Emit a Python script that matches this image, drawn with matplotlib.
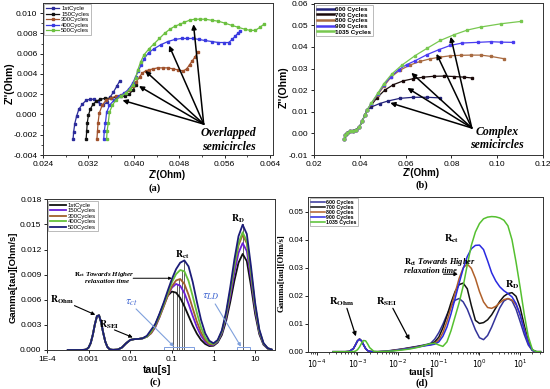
import matplotlib
matplotlib.use('Agg')
import matplotlib.pyplot as plt
import numpy as np
from matplotlib.patches import Rectangle
from matplotlib.ticker import FixedLocator, FixedFormatter, NullLocator, LogLocator, NullFormatter

plt.rcParams['font.family'] = ['Liberation Sans', 'DejaVu Sans']
plt.rcParams['axes.unicode_minus'] = False
plt.rcParams['mathtext.fontset'] = 'dejavusans'

# ---------------- data: panel (a) Nyquist, early cycles ----------------
a_labels = ['1stCycle', '150Cycles', '300Cycles', '400Cycles', '500Cycles']
a1_x = [0.0293, 0.0294, 0.0296, 0.0299, 0.0303, 0.0309, 0.0316, 0.0323, 0.0330, 0.0336, 0.0341, 0.0346, 0.0352, 0.0358, 0.0364, 0.0370, 0.0375]
a1_y = [-0.0024, -0.0017, -0.0009, -0.0002, 0.0005, 0.0010, 0.0014, 0.0015, 0.0015, 0.0013, 0.0010, 0.0009, 0.0012, 0.0017, 0.0022, 0.0028, 0.0033]
a150_x = [0.0316, 0.0317, 0.0318, 0.0320, 0.0323, 0.0328, 0.0334, 0.0341, 0.0350, 0.0359, 0.0368, 0.0377, 0.0385, 0.0392, 0.0398, 0.0404]
a150_y = [-0.0024, -0.0016, -0.0008, -0.0001, 0.0005, 0.0010, 0.0013, 0.0015, 0.0016, 0.0016, 0.0017, 0.0018, 0.0018, 0.0020, 0.0024, 0.0029]
a300_x = [0.0335, 0.0336, 0.0337, 0.0339, 0.0344, 0.0351, 0.0359, 0.0368, 0.0377, 0.0385, 0.0392, 0.0398, 0.0404, 0.0410, 0.0415, 0.0421, 0.0427, 0.0434, 0.0442, 0.0451, 0.0460, 0.0469, 0.0478, 0.0487, 0.0493, 0.0498, 0.0503, 0.0508, 0.0513]
a300_y = [-0.0024, -0.0016, -0.0008, 0.0001, 0.0009, 0.0014, 0.0016, 0.0018, 0.0019, 0.0021, 0.0024, 0.0028, 0.0032, 0.0037, 0.0041, 0.0043, 0.0044, 0.0045, 0.0046, 0.0046, 0.0046, 0.0045, 0.0044, 0.0043, 0.0045, 0.0049, 0.0053, 0.0057, 0.0062]
a400_x = [0.0347, 0.0348, 0.0350, 0.0352, 0.0357, 0.0365, 0.0374, 0.0383, 0.0391, 0.0398, 0.0403, 0.0408, 0.0413, 0.0418, 0.0426, 0.0436, 0.0448, 0.0460, 0.0472, 0.0484, 0.0494, 0.0504, 0.0515, 0.0525, 0.0537, 0.0549, 0.0559, 0.0567, 0.0573, 0.0578, 0.0583, 0.0587]
a400_y = [-0.0024, -0.0016, -0.0008, 0.0002, 0.0009, 0.0014, 0.0018, 0.0021, 0.0025, 0.0031, 0.0037, 0.0043, 0.0049, 0.0055, 0.0061, 0.0065, 0.0069, 0.0072, 0.0074, 0.0075, 0.0075, 0.0075, 0.0074, 0.0073, 0.0072, 0.0071, 0.0071, 0.0071, 0.0074, 0.0077, 0.0080, 0.0082]
a500_x = [0.0352, 0.0353, 0.0355, 0.0357, 0.0362, 0.0368, 0.0377, 0.0386, 0.0393, 0.0398, 0.0403, 0.0407, 0.0412, 0.0418, 0.0427, 0.0436, 0.0445, 0.0454, 0.0463, 0.0472, 0.0481, 0.0489, 0.0498, 0.0507, 0.0516, 0.0525, 0.0537, 0.0549, 0.0561, 0.0572, 0.0584, 0.0596, 0.0605, 0.0614, 0.0622, 0.0629]
a500_y = [-0.0024, -0.0016, -0.0008, 0.0002, 0.0009, 0.0014, 0.0018, 0.0021, 0.0025, 0.0029, 0.0036, 0.0044, 0.0052, 0.0059, 0.0065, 0.0070, 0.0075, 0.0080, 0.0084, 0.0087, 0.0089, 0.0091, 0.0093, 0.0094, 0.0094, 0.0094, 0.0093, 0.0092, 0.0090, 0.0088, 0.0086, 0.0084, 0.0083, 0.0083, 0.0086, 0.0089]

# ---------------- data: panel (b) Nyquist, late cycles ----------------
b_labels = ['600 Cycles', '700 Cycles', '800 Cycles', '900 Cycles', '1035 Cycles']
b_start_x = [0.0333, 0.0336, 0.0345, 0.0358, 0.0372, 0.0385, 0.0398, 0.0410, 0.0422, 0.0433]
b_start_y = [-0.0025, -0.0008, 0.0004, 0.0010, 0.0013, 0.0017, 0.0029, 0.0055, 0.0085, 0.0110]
b600_x = [0.0450, 0.0487, 0.0524, 0.0575, 0.0634, 0.0693, 0.0752]
b600_y = [0.0122, 0.0138, 0.0150, 0.0162, 0.0167, 0.0167, 0.0164]
b700_x = [0.0450, 0.0475, 0.0509, 0.0546, 0.0590, 0.0634, 0.0678, 0.0722, 0.0766, 0.0811, 0.0855, 0.0892]
b700_y = [0.0130, 0.0165, 0.0200, 0.0225, 0.0243, 0.0253, 0.0260, 0.0264, 0.0265, 0.0263, 0.0260, 0.0256]
b800_x = [0.0450, 0.0478, 0.0505, 0.0538, 0.0575, 0.0619, 0.0664, 0.0708, 0.0752, 0.0796, 0.0840, 0.0884, 0.0929, 0.0973, 0.1031]
b800_y = [0.0135, 0.0178, 0.0218, 0.0262, 0.0292, 0.0316, 0.0333, 0.0345, 0.0353, 0.0359, 0.0361, 0.0362, 0.0362, 0.0356, 0.0345]
b900_x = [0.0450, 0.0478, 0.0505, 0.0535, 0.0570, 0.0605, 0.0642, 0.0693, 0.0745, 0.0796, 0.0848, 0.0914, 0.0973, 0.1017, 0.1068]
b900_y = [0.0138, 0.0182, 0.0225, 0.0262, 0.0295, 0.0318, 0.0336, 0.0364, 0.0387, 0.0407, 0.0418, 0.0421, 0.0424, 0.0422, 0.0421]
b1035_x = [0.0450, 0.0478, 0.0505, 0.0540, 0.0583, 0.0642, 0.0693, 0.0752, 0.0811, 0.0870, 0.0929, 0.1017, 0.1105]
b1035_y = [0.0140, 0.0185, 0.0230, 0.0275, 0.0315, 0.0360, 0.0393, 0.0430, 0.0456, 0.0478, 0.0492, 0.0507, 0.0518]

# ---------------- data: panel (c) DRT, early cycles ----------------
c_labels = ['1stCycle', '150Cycles', '300Cycles', '400Cycles', '500Cycles']
c_logtau_low = [-3.5, -3.4, -3.2, -3.1, -3.05, -3.0, -2.95, -2.9, -2.85, -2.8, -2.75, -2.7, -2.65, -2.6, -2.55, -2.5, -2.45, -2.4, -2.3, -2.2, -2.1, -2.0, -1.9, -1.8, -1.7]
c_gamma_low = [0, 0, 0, 0.00002, 0.00008, 0.0003, 0.00083, 0.0018, 0.00307, 0.00404, 0.00414, 0.00331, 0.00206, 0.001, 0.00037, 0.00011, 0.00003, 0.00002, 0.00005, 0.0003, 0.0008, 0.0012, 0.0013, 0.00132, 0.0014]
c_logtau_high = [-1.6, -1.5, -1.4, -1.3, -1.2, -1.1, -1.0, -0.9, -0.8, -0.7, -0.6, -0.5, -0.4, -0.3, -0.2, -0.1, 0.0, 0.1, 0.2, 0.3, 0.4, 0.5, 0.6, 0.7, 0.8, 0.9, 1.0, 1.1, 1.2, 1.3, 1.4]
c_1st = [0.0016, 0.0021, 0.0030, 0.0042, 0.00547, 0.00649, 0.00698, 0.00685, 0.00622, 0.00523, 0.00407, 0.00293, 0.00195, 0.0012, 0.00072, 0.00047, 0.00051, 0.0009, 0.0018, 0.00343, 0.00569, 0.00825, 0.01042, 0.01147, 0.01061, 0.00767, 0.00431, 0.00189, 0.00064, 0.00017, 0.00003]
c_150 = [0.0016, 0.0020, 0.0027, 0.0039, 0.0052, 0.00648, 0.00745, 0.00789, 0.00767, 0.00681, 0.00551, 0.00407, 0.00274, 0.0017, 0.00099, 0.00061, 0.0006, 0.001, 0.0020, 0.00381, 0.00634, 0.00918, 0.0116, 0.01276, 0.01181, 0.00854, 0.0048, 0.0021, 0.00072, 0.00019, 0.00004]
c_300 = [0.0016, 0.0020, 0.0028, 0.0039, 0.00516, 0.00648, 0.0076, 0.00831, 0.00848, 0.00789, 0.0066, 0.00499, 0.00339, 0.0021, 0.0012, 0.0007, 0.00065, 0.0011, 0.00215, 0.00411, 0.00683, 0.00989, 0.0125, 0.01376, 0.01274, 0.0092, 0.00518, 0.00226, 0.00077, 0.00021, 0.00004]
c_400 = [0.0016, 0.0022, 0.0030, 0.0041, 0.0054, 0.0068, 0.00809, 0.00906, 0.00955, 0.0094, 0.00825, 0.00642, 0.00444, 0.0027, 0.0015, 0.00086, 0.00071, 0.0011, 0.0022, 0.0042, 0.00698, 0.01011, 0.01277, 0.01406, 0.01301, 0.0094, 0.00529, 0.00231, 0.00079, 0.00021, 0.00004]
c_500 = [0.0017, 0.0024, 0.0031, 0.0043, 0.00561, 0.00708, 0.00848, 0.00965, 0.01043, 0.0107, 0.00999, 0.00813, 0.00577, 0.0036, 0.0020, 0.0011, 0.0008, 0.0012, 0.00234, 0.00447, 0.00743, 0.01076, 0.01359, 0.01496, 0.01385, 0.01, 0.00563, 0.00246, 0.00084, 0.00023, 0.00005]
c_rct_peak_logtau = [-0.975, -0.88, -0.82, -0.76, -0.70]
c_rct_peak_gamma = [0.0070, 0.0079, 0.0085, 0.0096, 0.0107]
c_rd_peak_logtau = 0.72
c_rd_peak_gamma = 0.0150

# ---------------- data: panel (d) DRT, late cycles ----------------
d_labels = ['600 Cycles', '700 Cycles', '800 Cycles', '900 Cycles', '1035 Cycles']
d_logtau = [-3.6, -3.3, -3.2, -3.1, -3.05, -3.0, -2.95, -2.9, -2.85, -2.8, -2.75, -2.7, -2.6, -2.5,
            -2.3, -2.1, -1.9, -1.7, -1.5, -1.3,
            -1.2, -1.1, -1.0, -0.9, -0.8, -0.7, -0.6, -0.5, -0.4, -0.3, -0.2, -0.1,
            0.0, 0.1, 0.2, 0.3, 0.4, 0.5, 0.6, 0.7, 0.8, 0.9, 1.0, 1.1, 1.2, 1.3, 1.4, 1.5]
d_600 = [0, 0, 0.0001, 0.00112, 0.00243, 0.00386, 0.0045, 0.00386, 0.00243, 0.00112, 0.00038, 0.0001, 0, 0,
         0.0002, 0.0006, 0.001, 0.0015, 0.002, 0.0026,
         0.003, 0.0045, 0.0068, 0.0098, 0.0132, 0.0163, 0.0184, 0.019, 0.0178, 0.0152, 0.0115, 0.0078,
         0.0050, 0.0043, 0.0058, 0.0088, 0.0123, 0.0157, 0.0181, 0.019, 0.0182, 0.0152, 0.0108, 0.0062, 0.0024, 0.0004, 0, 0]
d_700 = [0, 0, 0.0001, 0.00112, 0.00243, 0.00386, 0.0045, 0.00386, 0.00243, 0.00112, 0.00038, 0.0001, 0, 0,
         0.0001, 0.0005, 0.0009, 0.0014, 0.0019, 0.0024,
         0.0028, 0.0035, 0.0052, 0.0085, 0.0128, 0.0175, 0.0215, 0.0240, 0.0245, 0.0225, 0.0165, 0.0112,
         0.0101, 0.0104, 0.0114, 0.0132, 0.0156, 0.018, 0.0198, 0.0208, 0.0211, 0.0198, 0.0158, 0.0095, 0.0038, 0.0006, 0, 0]
d_800 = [0, 0, 0.0001, 0.00112, 0.00243, 0.00386, 0.0045, 0.00386, 0.00243, 0.00112, 0.00038, 0.0001, 0, 0,
         0.0001, 0.0005, 0.0009, 0.0013, 0.0018, 0.0023,
         0.0025, 0.003, 0.0042, 0.0068, 0.0108, 0.0158, 0.021, 0.0262, 0.0300, 0.0313, 0.0298, 0.0262,
         0.0215, 0.0178, 0.0158, 0.0155, 0.0162, 0.0175, 0.0186, 0.019, 0.0185, 0.0168, 0.0132, 0.0082, 0.0033, 0.0005, 0, 0]
d_900 = [0, 0, 0.0001, 0.00112, 0.00243, 0.00386, 0.0045, 0.00386, 0.00243, 0.00112, 0.00038, 0.0001, 0, 0,
         0.0001, 0.0004, 0.0008, 0.0012, 0.0017, 0.0022,
         0.0024, 0.0027, 0.0035, 0.0055, 0.0088, 0.0135, 0.019, 0.0245, 0.0297, 0.034, 0.0368, 0.038,
         0.0381, 0.0365, 0.0325, 0.0282, 0.0253, 0.0232, 0.0218, 0.0208, 0.0196, 0.0172, 0.0132, 0.0078, 0.003, 0.0005, 0, 0]
d_1035 = [0, 0, 0, 0.00005, 0.0002, 0.00069, 0.00169, 0.00303, 0.004, 0.00388, 0.00276, 0.00144, 0.00016, 0,
          0.0001, 0.0003, 0.0006, 0.001, 0.0016, 0.0025,
          0.0029, 0.003, 0.0024, 0.0019, 0.0035, 0.0075, 0.0125, 0.0175, 0.0235, 0.031, 0.038, 0.0428,
          0.0458, 0.0475, 0.0481, 0.0483, 0.0482, 0.0478, 0.047, 0.045, 0.040, 0.032, 0.023, 0.0135, 0.0055, 0.0008, 0, 0]

# ---------------- styling helpers ----------------
W, H = 550, 389
fig = plt.figure(figsize=(5.5, 3.89), dpi=100)
fig.patch.set_facecolor('white')

def box(l, t, r, b):
    return [l / W, 1 - b / H, (r - l) / W, (b - t) / H]

def style(ax, size=6):
    ax.tick_params(which='major', direction='out', length=2.5, width=0.6, labelsize=size, pad=1.5)
    ax.tick_params(which='minor', direction='out', length=1.5, width=0.5)
    for s in ax.spines.values():
        s.set_linewidth(0.7)
        s.set_color('#333333')

def arrow(ax, p0, p1, lw=1.1, ms=7, color='k'):
    ax.annotate('', xy=p1, xytext=p0,
                arrowprops=dict(arrowstyle='-|>', color=color, lw=lw, mutation_scale=ms,
                                shrinkA=0, shrinkB=0))

SERIF = ['Liberation Serif', 'DejaVu Serif']

# ---------------- panel (a) ----------------
ax = fig.add_axes(box(43, 3, 273, 155))
style(ax)
a_colors = ['#2b2b9a', '#111111', '#a0522d', '#3a3ae0', '#6cc040']
a_series = [(a1_x, a1_y), (a150_x, a150_y), (a300_x, a300_y), (a400_x, a400_y), (a500_x, a500_y)]
for (x, y), c, lab in zip(a_series, a_colors, a_labels):
    ax.plot(x, y, '-', color=c, lw=0.9, marker='s', ms=1.6, label=lab)
ax.set_xlim(0.024, 0.0645)
ax.set_ylim(-0.004, 0.011)
xt = [0.024, 0.032, 0.040, 0.048, 0.056, 0.064]
ax.xaxis.set_major_locator(FixedLocator(xt))
ax.xaxis.set_major_formatter(FixedFormatter(['%.3f' % v for v in xt]))
ax.xaxis.set_minor_locator(FixedLocator([0.028, 0.036, 0.044, 0.052, 0.060]))
yt = [-0.004, -0.002, 0.0, 0.002, 0.004, 0.006, 0.008, 0.010]
ax.yaxis.set_major_locator(FixedLocator(yt))
ax.yaxis.set_major_formatter(FixedFormatter(['%.3f' % v for v in yt]))
ax.yaxis.set_minor_locator(FixedLocator([-0.003, -0.001, 0.001, 0.003, 0.005, 0.007, 0.009]))
leg = ax.legend(loc='upper left', fontsize=4.3, frameon=True, fancybox=False, edgecolor='#888888',
                borderpad=0.3, labelspacing=0.05, handlelength=2.2, handletextpad=0.3, borderaxespad=0.25)
leg.get_frame().set_linewidth(0.5)
a_origin = (0.0523, -0.00095)
for tip in [(0.0380, 0.0014), (0.0409, 0.0028), (0.0420, 0.0043), (0.0462, 0.0068), (0.0505, 0.0089)]:
    arrow(ax, a_origin, tip, lw=1.1, ms=7)
ax.text(0.0566, -0.0018, 'Overlapped', ha='center', va='center', fontsize=8.5,
        family=SERIF, style='italic', weight='bold')
ax.text(0.0567, -0.0032, 'semicircles', ha='center', va='center', fontsize=8.5,
        family=SERIF, style='italic', weight='bold')
fig.text(167 / W, 1 - 175 / H, "Z'(Ohm)", ha='center', va='center', fontsize=7, weight='bold')
fig.text(155 / W, 1 - 188 / H, '(a)', ha='center', va='center', fontsize=7.5, weight='bold', family=SERIF)
fig.text(10 / W, 1 - 83 / H, "Z''(Ohm)", ha='center', va='center', rotation=90, fontsize=7.5, weight='bold')

# ---------------- panel (b) ----------------
ax = fig.add_axes(box(314, 3, 543, 155))
style(ax)
b_colors = ['#22227a', '#1a0a0a', '#a86a40', '#4a3cf0', '#78c850']
b_series = [(b600_x, b600_y), (b700_x, b700_y), (b800_x, b800_y), (b900_x, b900_y), (b1035_x, b1035_y)]
for (x, y), c, lab in zip(b_series, b_colors, b_labels):
    ax.plot(b_start_x + x, b_start_y + y, '-', color=c, lw=0.9, marker='s', ms=1.6, label=lab)
ax.set_xlim(0.02, 0.12)
ax.set_ylim(-0.01, 0.0603)
xt = [0.02, 0.04, 0.06, 0.08, 0.10, 0.12]
ax.xaxis.set_major_locator(FixedLocator(xt))
ax.xaxis.set_major_formatter(FixedFormatter(['%.2f' % v for v in xt]))
yt = [-0.01, 0.0, 0.01, 0.02, 0.03, 0.04, 0.05, 0.06]
ax.yaxis.set_major_locator(FixedLocator(yt))
ax.yaxis.set_major_formatter(FixedFormatter(['%.2f' % v for v in yt]))
leg = ax.legend(loc='upper left', prop=dict(size=4.5, weight='bold'), frameon=True, fancybox=False,
                edgecolor='#888888', borderpad=0.3, labelspacing=0.05, handlelength=2.6,
                handletextpad=0.2, borderaxespad=0.25, markerscale=0)
leg.get_frame().set_linewidth(0.5)
for h in leg.get_lines():
    h.set_linewidth(1.8)
    h.set_marker('')
b_origin = (0.0889, 0.0025)
for tip in [(0.0533, 0.0141), (0.0608, 0.0210), (0.0625, 0.0280), (0.0735, 0.0368), (0.0797, 0.0447)]:
    arrow(ax, b_origin, tip, lw=1.1, ms=7)
ax.text(0.0998, 0.0006, 'Complex', ha='center', va='center', fontsize=8.5,
        family=SERIF, style='italic', weight='bold')
ax.text(0.1000, -0.0054, 'semicircles', ha='center', va='center', fontsize=8.5,
        family=SERIF, style='italic', weight='bold')
fig.text(421.7 / W, 1 - 173.3 / H, "Z'(Ohm)", ha='center', va='center', fontsize=7, weight='bold')
fig.text(421.7 / W, 1 - 185.5 / H, '(b)', ha='center', va='center', fontsize=7.5, weight='bold', family=SERIF)
fig.text(284 / W, 1 - 87 / H, "Z''(Ohm)", ha='center', va='center', rotation=90, fontsize=7.5, weight='bold')

# ---------------- panel (c) ----------------
ax = fig.add_axes(box(47, 199.3, 275, 350))
style(ax)
ax.set_xscale('log')
c_colors = ['#111111', '#6a1fd8', '#a0602d', '#66c23a', '#1c1c78']
tau_c = [10 ** v for v in c_logtau_low + c_logtau_high]
for g, c, lab in zip([c_1st, c_150, c_300, c_400, c_500], c_colors, c_labels):
    ax.plot(tau_c, c_gamma_low + g, '-', color=c, lw=1.3, label=lab)
ax.set_xlim(1e-4, 10 ** 1.477)
ax.set_ylim(0, 0.018)
xt = [1e-4, 1e-3, 1e-2, 1e-1, 1, 10]
ax.xaxis.set_major_locator(FixedLocator(xt))
ax.xaxis.set_major_formatter(FixedFormatter(['1E-4', '0.001', '0.01', '0.1', '1', '10']))
ax.xaxis.set_minor_locator(NullLocator())
yt = [0, 0.003, 0.006, 0.009, 0.012, 0.015, 0.018]
ax.yaxis.set_major_locator(FixedLocator(yt))
ax.yaxis.set_major_formatter(FixedFormatter(['%.3f' % v for v in yt]))
leg = ax.legend(loc='upper left', fontsize=4.3, frameon=True, fancybox=False, edgecolor='#888888',
                borderpad=0.3, labelspacing=0.05, handlelength=2.6, handletextpad=0.3, borderaxespad=0.25)
leg.get_frame().set_linewidth(0.5)
for lt, gv in zip(c_rct_peak_logtau, c_rct_peak_gamma):
    ax.plot([10 ** lt, 10 ** lt], [0, gv], color='#444444', lw=0.6, zorder=1)
ax.plot([10 ** c_rd_peak_logtau] * 2, [0, c_rd_peak_gamma], color='#444444', lw=0.6, zorder=1)
ax.add_patch(Rectangle((10 ** -1.2, 0), 10 ** -0.48 - 10 ** -1.2, 0.0004, fill=False,
                       edgecolor='#7f9fe0', lw=0.7))
ax.add_patch(Rectangle((10 ** 0.56, 0), 10 ** 0.88 - 10 ** 0.56, 0.0004, fill=False,
                       edgecolor='#7f9fe0', lw=0.7))
mt = dict(math_fontfamily='stix', family=SERIF, weight='bold', ha='center', va='center')
ax.text(10 ** -3.64, 0.0060, r'$\mathbf{R}_{\mathbf{Ohm}}$', fontsize=7, **mt)
arrow(ax, (10 ** -3.34, 0.0053), (10 ** -2.84, 0.0042), lw=0.8, ms=5)
ax.text(10 ** -2.52, 0.0030, r'$\mathbf{R}_{\mathbf{SEI}}$', fontsize=7, **mt)
arrow(ax, (10 ** -2.38, 0.0024), (10 ** -1.94, 0.0015), lw=0.8, ms=5)
ax.text(10 ** -0.76, 0.0114, r'$\mathbf{R}_{\mathbf{ct}}$', fontsize=7, **mt)
ax.text(10 ** 0.58, 0.0157, r'$\mathbf{R}_{\mathbf{D}}$', fontsize=7, **mt)
ax.text(10 ** -2.62, 0.0090, r'$\mathbf{R}_{\mathbf{ct}}$ Towards Higher', fontsize=5, style='italic', **mt)
ax.text(10 ** -2.56, 0.0082, 'relaxation time', fontsize=5, style='italic', **mt)
arrow(ax, (10 ** -1.93, 0.00857), (10 ** -1.0, 0.00857), lw=0.7, ms=4)
ax.text(10 ** -1.96, 0.0057, r'$\tau_{ct}$', fontsize=8.5, color='#3b62d0', math_fontfamily='stix',
        ha='center', va='center')
arrow(ax, (10 ** -1.86, 0.0049), (10 ** -0.95, 0.0004), lw=0.8, ms=5, color='#7fa0dc')
ax.text(10 ** -0.08, 0.0065, r'$\tau_{LD}$', fontsize=8.5, color='#3b62d0', math_fontfamily='stix',
        ha='center', va='center')
arrow(ax, (10 ** 0.04, 0.0055), (10 ** 0.66, 0.0004), lw=0.8, ms=5, color='#7fa0dc')
fig.text(156.7 / W, 1 - 370 / H, 'tau[s]', ha='center', va='center', fontsize=7.5, weight='bold')
fig.text(155 / W, 1 - 382.5 / H, '(c)', ha='center', va='center', fontsize=7.5, weight='bold', family=SERIF)
fig.text(13 / W, 1 - 277 / H, 'Gamma[tau][Ohm/s]', ha='center', va='center', rotation=90,
         fontsize=6.8, weight='bold')

# ---------------- panel (d) ----------------
ax = fig.add_axes(box(308.3, 196.7, 543.3, 351.7))
style(ax, size=5.6)
ax.set_xscale('log')
d_colors = ['#33339a', '#111111', '#b0602a', '#2a2ae0', '#55c030']
tau_d = [10 ** v for v in d_logtau]
for g, c, lab in zip([d_600, d_700, d_800, d_900, d_1035], d_colors, d_labels):
    ax.plot(tau_d, g, '-', color=c, lw=1.1, label=lab)
ax.set_xlim(10 ** -4.21, 10 ** 1.57)
ax.set_ylim(0, 0.0554)
xt = [1e-4, 1e-3, 1e-2, 1e-1, 1, 10]
ax.xaxis.set_major_locator(FixedLocator(xt))
ax.xaxis.set_major_formatter(FixedFormatter([r'$10^{-4}$', r'$10^{-3}$', r'$10^{-2}$',
                                             r'$10^{-1}$', r'$10^{0}$', r'$10^{1}$']))
ax.xaxis.set_minor_locator(LogLocator(base=10, subs=np.arange(2, 10), numticks=20))
ax.xaxis.set_minor_formatter(NullFormatter())
yt = [0, 0.01, 0.02, 0.03, 0.04, 0.05]
ax.yaxis.set_major_locator(FixedLocator(yt))
ax.yaxis.set_major_formatter(FixedFormatter(['%.2f' % v for v in yt]))
ax.tick_params(axis='y', pad=1.0)
leg = ax.legend(loc='upper left', prop=dict(size=3.8, weight='bold'), frameon=True, fancybox=False,
                edgecolor='#888888', borderpad=0.3, labelspacing=0.0, handlelength=2.6,
                handletextpad=0.2, borderaxespad=0.25)
leg.get_frame().set_linewidth(0.5)
ax.text(10 ** -3.39, 0.0178, r'$\mathbf{R}_{\mathbf{Ohm}}$', fontsize=7.5, **mt)
arrow(ax, (10 ** -3.26, 0.0155), (10 ** -3.04, 0.0055), lw=0.9, ms=6)
ax.text(10 ** -2.28, 0.0178, r'$\mathbf{R}_{\mathbf{SEI}}$', fontsize=7.5, **mt)
arrow(ax, (10 ** -2.13, 0.0155), (10 ** -1.72, 0.0042), lw=0.9, ms=6)
ax.text(10 ** -0.68, 0.0402, r'$\mathbf{R}_{\mathbf{ct}}$', fontsize=7.5, **mt)
ax.text(10 ** 0.8, 0.0238, r'$\mathbf{R}_{\mathbf{D}}$', fontsize=7.5, **mt)
ax.text(10 ** -0.97, 0.0321, r'$\mathbf{R}_{\mathbf{ct}}$ Towards Higher', fontsize=6, style='italic', **mt)
ax.text(10 ** -1.21, 0.0288, 'relaxation time', fontsize=6, style='italic', **mt)
arrow(ax, (10 ** -0.885, 0.0277), (10 ** -0.53, 0.0277), lw=0.8, ms=5)
fig.text(421.7 / W, 1 - 372.7 / H, 'tau[s]', ha='center', va='center', fontsize=7.5, weight='bold', family=SERIF)
fig.text(421.7 / W, 1 - 383 / H, '(d)', ha='center', va='center', fontsize=7.5, weight='bold', family=SERIF)
fig.text(282 / W, 1 - 273 / H, 'Gamma[tau][Ohm/s]', ha='center', va='center', rotation=90,
         fontsize=6.3, weight='bold', family=SERIF)

fig.savefig('out.png', dpi=100, facecolor='white')
